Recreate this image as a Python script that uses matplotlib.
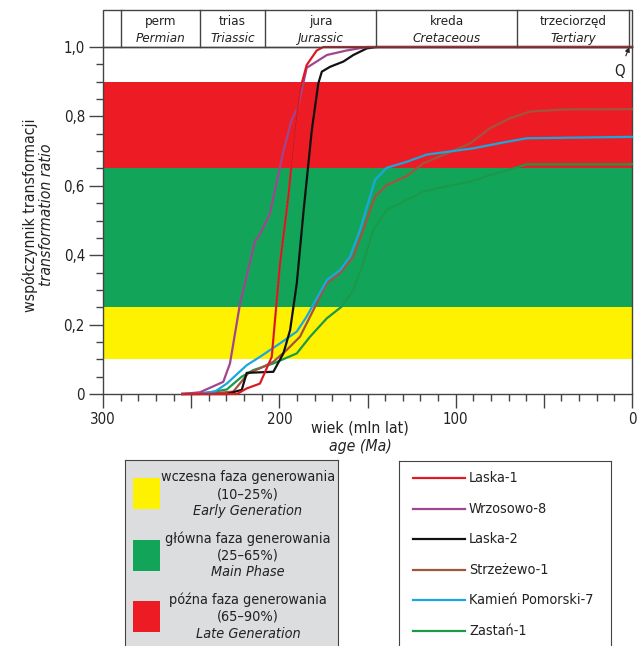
import matplotlib.pyplot as plt
from matplotlib import font_manager
from matplotlib.patches import Rectangle
from matplotlib.ticker import MultipleLocator

# the original uses a condensed sans; take one if it is installed
names = {f.name for f in font_manager.fontManager.ttflist}
cond = [f for f in font_manager.fontManager.ttflist
        if 'narrow' in f.fname.lower() or 'condensed' in f.fname.lower()]
if 'Liberation Sans Narrow' in names:
    plt.rcParams['font.family'] = ['Liberation Sans Narrow', 'DejaVu Sans']
    scale = 1.0
elif cond:
    plt.rcParams['font.family'] = [cond[0].name, 'DejaVu Sans']
    plt.rcParams['font.stretch'] = 'condensed'
    scale = 1.0
else:
    plt.rcParams['font.family'] = ['Liberation Sans', 'DejaVu Sans']
    scale = 0.9

# geological periods (Ma)
period_edges = [290, 245, 208, 145, 65, 1.8]
period_pl = ['perm', 'trias', 'jura', 'kreda', 'trzeciorzęd']
period_en = ['Permian', 'Triassic', 'Jurassic', 'Cretaceous', 'Tertiary']

# generation windows
zone_lo = [0.10, 0.25, 0.65]
zone_hi = [0.25, 0.65, 0.90]
zone_colors = ['#fff200', '#12a55a', '#ed1c24']
zone_pl = ['wczesna faza generowania', 'główna faza generowania', 'późna faza generowania']
zone_pct = ['(10–25%)', '(25–65%)', '(65–90%)']
zone_en = ['Early Generation', 'Main Phase', 'Late Generation']

# wells: transformation ratio vs age
laska1_age = [255, 224, 218.5, 211, 204.3, 199.6, 194.9, 191.1, 188.3, 184.5, 178.8, 175, 0]
laska1_tr = [0, 0, 0.016, 0.03, 0.107, 0.377, 0.569, 0.76, 0.876, 0.948, 0.99, 1.0, 1.0]

wrz8_age = [255, 245, 231.8, 228, 222.3, 213.8, 211, 205.3, 197.7, 193, 189.2, 184.5, 173, 161.8, 150.4, 0]
wrz8_tr = [0, 0.005, 0.035, 0.088, 0.26, 0.44, 0.46, 0.52, 0.70, 0.79, 0.83, 0.94, 0.977, 0.99, 1.0, 1.0]

laska2_age = [255, 229.8, 221.3, 218.5, 203.4, 197.7, 193.9, 190.1, 186.4, 181.6, 177.9, 175.9, 171.2, 163.7, 158, 150.4, 145, 0]
laska2_tr = [0, 0, 0.012, 0.061, 0.064, 0.117, 0.184, 0.319, 0.52, 0.76, 0.895, 0.929, 0.943, 0.958, 0.977, 0.996, 1.0, 1.0]

strz1_age = [255, 240, 226.1, 217.6, 211, 203.4, 195.8, 188.3, 180.7, 173.1, 165.6, 158, 152.4, 145.7, 139.1,
             127.8, 118.3, 106.9, 91.8, 80.5, 69.1, 57.8, 38.9, 0]
strz1_tr = [0, 0.001, 0.007, 0.06, 0.074, 0.093, 0.127, 0.165, 0.242, 0.319, 0.348, 0.396, 0.473, 0.569, 0.602,
            0.628, 0.665, 0.689, 0.722, 0.766, 0.795, 0.814, 0.820, 0.821]

kp7_age = [255, 248.8, 236.5, 229.8, 218.5, 211, 199.6, 190.1, 184.5, 173.1, 165.6, 159.9, 154.2, 145.7, 139.1,
           127.8, 116.4, 90, 72.9, 59.7, 0]
kp7_tr = [0, 0, 0.007, 0.03, 0.083, 0.107, 0.146, 0.18, 0.223, 0.328, 0.357, 0.396, 0.473, 0.617, 0.652,
          0.669, 0.690, 0.708, 0.725, 0.737, 0.741]

zast1_age = [255, 245, 229.8, 221.3, 214.7, 203.4, 190.1, 182.6, 173.1, 164.6, 158, 152.4, 146.7, 139.1, 127.8,
             118.3, 110.7, 91.8, 80.5, 69.1, 59.7, 0]
zast1_tr = [0, 0, 0.013, 0.05, 0.069, 0.088, 0.117, 0.165, 0.218, 0.252, 0.30, 0.377, 0.473, 0.53, 0.559,
            0.583, 0.593, 0.612, 0.631, 0.647, 0.662, 0.662]

well_names = ['Laska-1', 'Wrzosowo-8', 'Laska-2', 'Strzeżewo-1', 'Kamień Pomorski-7', 'Zastań-1']
well_colors = ['#ec1c27', '#a2458f', '#111111', '#a0553f', '#1aa7e0', '#1a9a48']
well_ages = [laska1_age, wrz8_age, laska2_age, strz1_age, kp7_age, zast1_age]
well_trs = [laska1_tr, wrz8_tr, laska2_tr, strz1_tr, kp7_tr, zast1_tr]

W, H = 644, 646
fig = plt.figure(figsize=(W / 100, H / 100), dpi=100)

def box(x0, y0, x1, y1):
    return [x0 / W, 1 - y1 / H, (x1 - x0) / W, (y1 - y0) / H]

spine_c = '#444444'
txt_c = '#222222'
fs_tick = 10.8 * scale
fs_title = 11.3 * scale
fs_head = 9.6 * scale
fs_leg = 10.4 * scale

ax = fig.add_axes(box(103, 47, 632, 394))
for lo, hi, c in zip(zone_lo, zone_hi, zone_colors):
    ax.axhspan(lo, hi, color=c, lw=0, zorder=0)

# draw back to front like the original
order = [5, 3, 4, 2, 1, 0]
for i in order:
    ax.plot(well_ages[i], well_trs[i], color=well_colors[i], lw=1.6, zorder=3 + order.index(i),
            solid_joinstyle='round', clip_on=False)
ax.plot(laska1_age, laska1_tr, color='#6a1010', ls=(0, (1, 1.5)), lw=0.4, zorder=10, clip_on=False)

ax.set_xlim(300, 0)
ax.set_ylim(0, 1)
ax.xaxis.set_minor_locator(MultipleLocator(10))
ax.yaxis.set_minor_locator(MultipleLocator(0.05))
ax.set_xticks([300, 250, 200, 150, 100, 50, 0])
ax.set_xticklabels(['300', '', '200', '', '100', '', '0'])
ax.set_yticks([0, 0.2, 0.4, 0.6, 0.8, 1.0])
ax.set_yticklabels(['0', '0,2', '0,4', '0,6', '0,8', '1,0'])
ax.tick_params(which='major', direction='out', length=10, width=1, color=spine_c, labelsize=fs_tick,
               labelcolor=txt_c, pad=3)
ax.tick_params(which='minor', direction='out', length=5, width=1, color=spine_c)
for s in ax.spines.values():
    s.set_color(spine_c)
    s.set_linewidth(1)

# axis titles
fig.text(360 / W, 1 - 428 / H, 'wiek (mln lat)', ha='center', va='center', fontsize=fs_title, color=txt_c)
fig.text(360 / W, 1 - 447 / H, 'age (Ma)', ha='center', va='center', fontsize=fs_title, style='italic',
         color=txt_c)
fig.text(30 / W, 1 - 215 / H, 'współczynnik transformacji', ha='center', va='center', rotation=90,
         fontsize=fs_title, color=txt_c)
fig.text(47 / W, 1 - 215 / H, 'transformation ratio', ha='center', va='center', rotation=90,
         fontsize=fs_title, style='italic', color=txt_c)

# period header
hx = fig.add_axes(box(103, 10, 632, 47), sharex=ax)
hx.set_ylim(0, 1)
hx.axis('off')
hx.add_patch(Rectangle((300, 0), -300, 1, fill=False, ec=spine_c, lw=1, clip_on=False))
for e in period_edges:
    hx.plot([e, e], [0, 1], color=spine_c, lw=1, clip_on=False)
for i in range(len(period_pl)):
    mid = (period_edges[i] + period_edges[i + 1]) / 2
    hx.text(mid, 0.70, period_pl[i], ha='center', va='center', fontsize=fs_head, color=txt_c)
    hx.text(mid, 0.24, period_en[i], ha='center', va='center', fontsize=fs_head, style='italic',
            color=txt_c)

ax.annotate('Q', xy=(1.5, 1.0), xytext=(7, 0.93), ha='center', va='center', fontsize=fs_tick, color=txt_c,
            annotation_clip=False,
            arrowprops=dict(arrowstyle='-|>', color=txt_c, lw=0.8, mutation_scale=7, shrinkA=4, shrinkB=0))

# legend: generation windows
lz = fig.add_axes(box(125, 460, 338, 660))
lz.set_xlim(125, 338)
lz.set_ylim(660, 460)
lz.set_xticks([])
lz.set_yticks([])
lz.set_facecolor('#dcddde')
for s in lz.spines.values():
    s.set_color(spine_c)
for i in range(3):
    y0 = 477 + i * 61.5
    lz.add_patch(Rectangle((133, y0 + 1), 27, 31, color=zone_colors[i], lw=0))
    lz.text(248, y0, zone_pl[i], ha='center', va='center', fontsize=fs_leg, color=txt_c)
    lz.text(248, y0 + 17, zone_pct[i], ha='center', va='center', fontsize=fs_leg, color=txt_c)
    lz.text(248, y0 + 34, zone_en[i], ha='center', va='center', fontsize=fs_leg, style='italic', color=txt_c)

# legend: wells
lw_ax = fig.add_axes(box(399, 461, 611, 660))
lw_ax.set_xlim(399, 611)
lw_ax.set_ylim(660, 461)
lw_ax.set_xticks([])
lw_ax.set_yticks([])
for s in lw_ax.spines.values():
    s.set_color(spine_c)
for i, name in enumerate(well_names):
    y = 478 + i * 30.6
    lw_ax.plot([413, 465], [y, y], color=well_colors[i], lw=1.6)
    if i == 0:
        lw_ax.plot([413, 465], [y, y], color='#6a1010', ls=(0, (1, 1.5)), lw=0.4)
    lw_ax.text(469, y, name, ha='left', va='center', fontsize=fs_leg, color=txt_c)

fig.savefig('out.png', dpi=100)
